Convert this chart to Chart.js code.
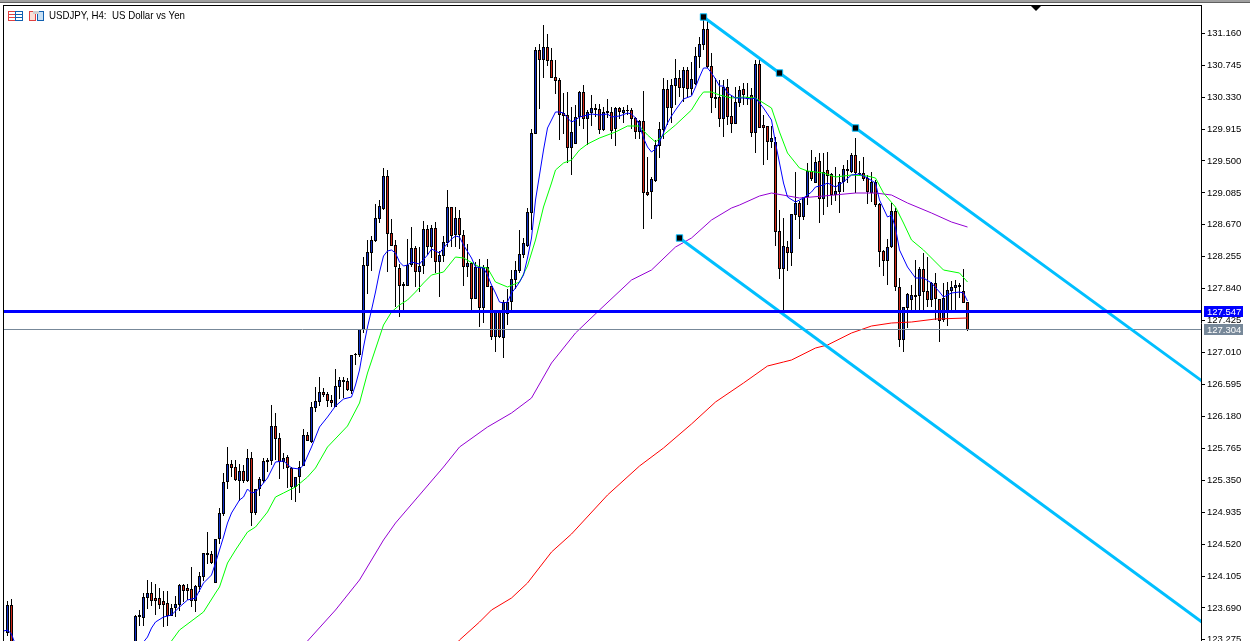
<!DOCTYPE html>
<html><head><meta charset="utf-8">
<style>html,body{margin:0;padding:0;background:#fff;overflow:hidden}canvas{display:block}</style>
<script src="https://cdn.jsdelivr.net/npm/chart.js@4"></script>
</head><body>
<canvas id="c" width="1250" height="641"></canvas>
<script>
const chartTitle = "USDJPY, H4:  US Dollar vs Yen";
const tickLabels = [131.160,130.745,130.330,129.915,129.500,129.085,128.670,128.255,127.840,127.425,127.010,126.595,126.180,125.765,125.350,124.935,124.520,124.105,123.690,123.275];
const N = null;
const gapNulls = [N,N,N,N,N,N,N,N,N,N,N,N,N,N,N,N,N,N,N,N,N,N,N,N,N,N,N,N,N,N];
const opens = [123.143,123.364,123.728,...gapNulls,
123.143,123.572,123.559,123.819,123.884,123.819,123.819,123.78,123.754,123.585,123.689,123.728,123.988,123.949,123.936,123.78,123.962,124.092,124.378,124.391,124.014,124.586,124.911,125.327,125.561,125.522,125.34,125.47,125.34,125.639,124.924,125.236,125.34,125.587,125.6,126.055,125.899,125.587,125.652,125.509,125.262,125.392,125.535,125.938,125.847,126.289,126.367,126.497,126.471,126.393,126.302,126.562,126.627,126.64,126.51,126.978,
126.978,127.303,128.135,128.304,128.46,128.746,128.876,129.305,128.564,128.408,128.109,127.901,127.875,128.148,128.369,128.057,128.135,128.616,128.382,128.629,128.187,128.265,128.434,128.902,128.538,128.759,128.538,128.122,128.174,127.706,128.122,127.589,128.122,127.875,127.212,127.55,127.199,127.511,127.667,127.953,128.07,128.278,128.395,
128.824,129.851,130.943,130.813,130.982,130.813,130.592,130.553,130.124,130.098,129.669,129.721,130.072,130.397,130.046,130.124,130.163,130.176,129.903,130.15,130.137,129.916,130.189,130.124,130.15,130.163,130.059,129.877,130.02,129.097,129.097,129.24,129.695,129.903,130.436,130.189,130.475,130.579,130.449,130.683,130.436,130.501,130.852,131.008,131.216,130.735,130.332,130.332,130.046,130.462,130.085,129.981,130.254,
130.436,130.306,130.358,129.864,130.761,129.968,129.955,129.747,129.747,128.59,128.096,128.382,128.304,128.798,128.954,128.772,129.032,129.37,129.214,129.5,129.006,129.383,129.331,129.058,129.097,129.227,129.37,129.357,129.578,129.344,129.344,129.279,129.084,129.227,128.941,128.33,128.2,128.382,128.85,127.862,127.173,127.589,127.693,127.732,127.745,128.096,127.81,127.693,127.914,127.706,127.433,127.537,127.81,127.849,127.862,127.81,127.667];
const highs = [124.131,123.78,123.806,...gapNulls,
123.598,123.663,123.884,124.053,124.027,124.001,123.949,123.91,123.91,123.741,123.845,124.001,124.001,124.001,124.222,123.988,124.157,124.404,124.677,124.43,124.586,124.989,125.444,125.782,125.613,125.613,125.561,125.548,125.756,125.717,125.236,125.392,125.639,125.639,126.328,126.224,125.964,125.704,125.678,125.522,125.392,125.6,126.016,125.977,126.367,126.562,126.692,126.549,126.497,126.458,126.796,126.692,126.692,126.679,126.978,127.004,
127.316,128.252,128.473,128.525,128.941,128.993,129.409,129.383,128.746,128.473,128.161,127.927,128.486,128.642,128.395,128.382,128.72,128.668,128.668,128.707,128.33,128.525,129.123,128.902,128.902,128.863,128.603,128.421,128.187,128.187,128.226,128.148,128.226,127.875,127.563,127.563,127.693,127.836,128.083,128.2,128.603,128.499,128.889,
129.916,130.982,131.021,131.268,131.151,130.969,130.813,130.579,130.384,130.397,130.202,130.228,130.41,130.488,130.163,130.358,130.241,130.241,130.202,130.306,130.202,130.202,130.202,130.202,130.228,130.189,130.072,130.033,130.41,129.552,129.292,129.773,130.007,130.579,130.553,130.566,130.826,130.683,130.722,130.722,130.787,130.982,131.112,131.372,131.32,130.904,130.579,130.553,130.553,130.566,130.358,130.462,130.475,
130.514,130.514,130.449,130.813,130.813,130.098,129.955,129.955,129.812,128.863,128.759,128.46,128.811,129.357,128.98,129.032,129.474,129.643,129.552,129.604,129.604,129.617,129.344,129.422,129.331,129.448,129.513,129.604,129.799,129.5,129.552,129.318,129.357,129.253,128.954,128.343,128.486,128.954,128.889,127.979,127.602,127.784,127.888,128.213,128.122,128.304,128.252,127.927,128.044,127.706,127.914,127.927,127.94,127.953,127.914,128.096,127.667];
const lows = [123.013,123.325,122.948,...gapNulls,
123.013,123.455,123.455,123.676,123.715,123.598,123.676,123.442,123.455,123.585,123.572,123.65,123.767,123.793,123.702,123.637,123.897,124.04,124.261,124.261,124.014,124.521,124.885,125.236,125.392,125.34,125.08,125.314,125.327,124.755,124.898,125.145,125.314,125.457,125.548,125.613,125.366,125.496,125.249,125.093,125.067,125.184,125.535,125.86,125.834,126.237,126.315,126.432,126.302,126.302,126.302,126.406,126.419,126.51,126.471,126.848,
126.952,127.264,127.771,128.07,128.447,128.694,128.863,128.057,128.395,127.602,127.472,127.537,127.875,128.122,127.862,127.797,128.031,128.278,128.239,128.044,127.732,128.187,128.382,128.382,128.382,128.356,127.875,127.992,127.524,127.706,127.342,127.394,127.862,127.173,127.017,127.199,126.939,127.368,127.524,127.836,128.044,128.239,128.382,
128.603,129.851,130.176,130.579,130.735,130.579,130.371,129.773,129.851,129.474,129.318,129.721,129.955,129.916,129.708,129.955,130.072,129.851,129.89,130.059,129.786,129.695,130.046,129.994,130.098,129.916,129.786,129.786,128.616,129.045,128.746,129.227,129.539,129.786,129.968,129.994,130.228,130.332,130.267,130.332,130.358,130.488,130.709,130.943,130.709,130.124,130.189,129.942,129.812,129.968,129.864,129.981,130.202,
130.228,130.228,129.812,129.604,129.929,129.448,129.513,129.669,128.395,127.966,127.524,128.07,128.135,128.733,128.486,128.733,128.928,129.24,129.214,128.694,128.798,128.902,128.928,128.98,128.824,129.097,129.214,129.344,129.084,129.318,129.24,128.941,128.967,128.902,128.122,128.005,127.888,128.369,127.81,127.082,127.017,127.329,127.55,127.563,127.55,127.537,127.602,127.602,127.433,127.147,127.407,127.355,127.563,127.563,127.719,127.654,127.29];
const closes = [123.208,123.728,123.013,...gapNulls,
123.585,123.598,123.832,123.884,123.78,123.78,123.728,123.728,123.585,123.689,123.741,123.988,123.91,123.91,123.78,123.975,124.105,124.404,124.404,124.274,124.586,124.924,125.327,125.561,125.509,125.353,125.47,125.34,125.639,124.924,125.236,125.366,125.6,125.613,126.055,125.886,125.587,125.639,125.509,125.262,125.392,125.522,125.938,125.86,126.302,126.38,126.497,126.458,126.38,126.354,126.575,126.653,126.653,126.523,126.978,126.991,
127.316,128.148,128.317,128.473,128.759,128.915,129.305,128.551,128.395,128.122,127.875,127.875,128.148,128.369,128.057,128.135,128.616,128.382,128.629,128.187,128.278,128.447,128.902,128.525,128.759,128.538,128.122,128.174,127.706,128.122,127.589,128.122,127.862,127.212,127.55,127.212,127.667,127.667,127.966,128.083,128.291,128.434,128.837,
129.864,130.943,130.813,130.982,130.8,130.579,130.54,130.098,130.085,129.669,129.877,130.072,130.397,130.046,130.137,130.189,130.189,129.903,130.137,130.124,129.89,130.189,130.137,130.163,130.163,130.046,129.877,130.02,129.084,129.058,129.266,129.708,129.916,130.436,130.189,130.488,130.579,130.449,130.683,130.436,130.566,130.865,131.021,131.216,130.722,130.319,130.306,130.046,130.462,130.072,129.981,130.267,130.423,
130.358,130.332,129.864,130.761,129.929,129.929,129.747,129.799,128.577,128.096,128.395,128.304,128.811,128.954,128.772,129.032,129.37,129.266,129.487,129.006,129.357,129.305,129.058,129.11,129.227,129.396,129.396,129.578,129.344,129.331,129.266,129.097,129.227,128.928,128.317,128.2,128.382,128.85,127.862,127.173,127.602,127.771,127.758,127.758,128.096,127.797,127.693,127.914,127.706,127.42,127.719,127.823,127.862,127.888,127.888,127.654,127.304];

const blueIdx = [0,1,2,3,35,36,37,38,40,42,44,46,48,50,52,53,55,56,57,59,60,61,62,63,64,66,68,70,72,74,75,77,79,81,83,85,87,88,89,90,91,92,93,94,95,96,97,98,99,100,101,102,104,106,107,108,109,110,112,113,114,115,117,118,120,121,122,123,124,125,126,127,128,129,130,131,132,133,134,135,136,137,138,139,140,141,142,143,144,145,147,149,151,152,154,156,157,158,159,160,161,162,163,164,165,166,167,168,170,172,173,174,175,176,177,178,179,180,181,183,185,187,188,190,192,193,194,195,196,198,200,202,203,205,206,208,210,212,214,216,218,219,221,222,223,224,226,228,230,232,234,235,237,239,240,241];
const blueVal = [123.39,123.403,123.351,123.208,123.247,123.312,123.429,123.507,123.572,123.598,123.702,123.793,123.819,124.014,124.118,124.274,124.612,124.794,124.924,125.093,125.132,125.236,125.184,125.197,125.249,125.379,125.587,125.6,125.509,125.496,125.548,125.782,126.042,126.172,126.315,126.406,126.432,126.588,126.783,127.082,127.342,127.563,127.797,128.057,128.265,128.33,128.343,128.304,128.187,128.135,128.148,128.187,128.161,128.278,128.356,128.33,128.304,128.369,128.486,128.525,128.512,128.408,128.239,128.122,128.109,128.018,127.888,127.784,127.667,127.654,127.667,127.784,127.849,127.927,128.018,128.239,128.499,128.993,129.318,129.643,129.929,130.033,130.137,130.137,130.124,130.059,130.007,130.033,130.072,130.085,130.111,130.098,130.111,130.072,130.085,130.124,130.111,130.059,129.968,129.799,129.682,129.617,129.656,129.747,129.864,129.994,130.085,130.163,130.306,130.345,130.462,130.592,130.709,130.709,130.644,130.566,130.475,130.475,130.384,130.319,130.319,130.306,130.319,130.189,130.033,129.734,129.474,129.214,129.032,128.967,129.019,129.097,129.162,129.188,129.214,129.162,129.227,129.318,129.331,129.279,129.214,128.993,128.772,128.798,128.629,128.343,128.122,127.979,127.979,127.914,127.797,127.732,127.784,127.797,127.784,127.68];
const greenIdx = [41,42,44,50,53,54,56,58,61,63,66,68,70,73,76,78,81,86,89,91,93,94,95,97,99,101,103,105,107,110,113,115,119,121,123,126,129,131,133,135,137,138,140,142,144,146,149,153,156,159,161,163,165,168,172,174,175,177,179,182,185,188,192,194,196,199,201,205,208,212,216,218,220,223,225,227,230,232,235,239,241];
const greenVal = [123.208,123.26,123.403,123.637,123.884,123.962,124.274,124.443,124.677,124.742,124.937,125.132,125.184,125.262,125.392,125.509,125.782,126.055,126.354,126.744,127.056,127.212,127.368,127.537,127.628,127.693,127.797,127.914,128.018,128.057,128.252,128.239,128.122,128.109,127.927,127.862,127.927,128.135,128.473,128.902,129.214,129.383,129.474,129.513,129.643,129.721,129.799,129.877,129.955,129.955,129.838,129.747,129.838,129.968,130.163,130.332,130.397,130.397,130.358,130.319,130.332,130.319,130.189,129.877,129.604,129.409,129.37,129.344,129.292,129.318,129.305,129.279,129.084,128.902,128.694,128.473,128.343,128.239,128.083,128.044,127.927];
const purpleIdx = [75,76,83,89,95,98,104,110,114,121,127,132,137,143,149,157,162,168,172,177,182,184,189,192,199,205,213,218,222,226,232,237,241];
const purpleVal = [123.208,123.26,123.663,124.053,124.573,124.794,125.158,125.522,125.782,126.042,126.224,126.419,126.874,127.264,127.563,127.953,128.083,128.382,128.499,128.733,128.889,128.928,129.045,129.084,129.019,129.045,129.084,129.084,129.058,128.954,128.824,128.707,128.642];
const redIdx = [113,114,119,122,127,131,137,142,151,159,165,172,178,185,191,195,197,203,206,212,217,222,227,233,241];
const redVal = [123.208,123.273,123.507,123.663,123.819,124.014,124.417,124.651,125.158,125.535,125.769,126.081,126.367,126.614,126.835,126.887,126.913,127.069,127.108,127.264,127.355,127.394,127.407,127.446,127.459];

const levelBlueLabel = "127.547", levelGrayLabel = "127.304";
const levelBlue = 127.5435, levelGray = 127.3095;
const upperTrendIdx = [175,194,213,300], upperTrendVal = [131.372,130.644,129.929,126.626];
const lowerTrendIdx = [169,300], lowerTrendVal = [128.499,123.49];
const anchorIdx = [175,194,213,169], anchorVal = [131.372,130.644,129.929,128.499];

const INK='#000000', UP='#1030c8', DOWN='#d02818', SKY='#00bfff', GREY='#778899';
const LABEL_FONT='"Liberation Sans"';
const kRange=[...opens.keys()].filter(k=>opens[k]!==null);
const pts=(xs,ys)=>xs.map((x,i)=>({x,y:ys[i]}));
const lineDs=(data,color,width,order)=>({type:'line',data,borderColor:color,borderWidth:width,pointRadius:0,tension:0,fill:false,order,borderJoinStyle:'round'});
const xMin=-0.125, xMax=299.375;

const furniture={id:'furniture',
  afterDraw(ch){
    const c=ch.ctx;
    c.save();
    c.fillStyle='#a0a0a0'; c.fillRect(0,0,1250,2);
    c.fillStyle='#606060'; c.fillRect(0,2,1250,1);
    c.fillStyle=INK; c.fillRect(3,5,1199,1); c.fillRect(3,5,1,636);
    c.beginPath(); c.moveTo(1031,6); c.lineTo(1041,6); c.lineTo(1036,11); c.closePath(); c.fill();
    c.lineWidth=1;
    c.strokeStyle='#e04040'; c.strokeRect(8.5,11.5,7,9);
    c.beginPath(); c.moveTo(9,14.5);c.lineTo(15,14.5);c.moveTo(9,17.5);c.lineTo(15,17.5);c.stroke();
    c.strokeStyle='#1060b0'; c.strokeRect(15.5,11.5,7,9);
    c.beginPath(); c.moveTo(16,14.5);c.lineTo(22,14.5);c.moveTo(16,17.5);c.lineTo(22,17.5);c.stroke();
    c.strokeStyle='#e04040'; c.fillStyle='#fbe0d8'; c.fillRect(29.5,11.5,6,9); c.strokeRect(29.5,11.5,6,9);
    c.strokeStyle='#1060b0'; c.fillStyle='#c8e0f4'; c.fillRect(37.5,11.5,6,9); c.strokeRect(37.5,11.5,6,9);
    c.fillStyle='#d0d0d0'; c.fillRect(33,11,6,3);
    c.fillStyle=INK; c.font='10.5px "Liberation Sans"'; c.textBaseline='middle'; c.textAlign='left';
    c.fillText(chartTitle,49,16.5,136);
    c.font='9.5px '+LABEL_FONT;
    c.fillStyle='#0000ff'; c.fillRect(1204,306,39,11);
    c.fillStyle=GREY; c.fillRect(1204,324,39,11);
    c.fillStyle='#ffffff';
    c.fillText(levelBlueLabel,1207,312);
    c.fillText(levelGrayLabel,1207,330);
    c.restore();
  }};

new Chart(document.getElementById('c'),{
  type:'bar',
  data:{datasets:[
    {label:'wicks',data:kRange.map(k=>({x:k,y:[lows[k],highs[k]]})),backgroundColor:INK,barThickness:1,borderWidth:0,inflateAmount:0,grouped:false,order:9},
    {label:'up',data:kRange.filter(k=>closes[k]>=opens[k]).map(k=>({x:k,y:[opens[k],closes[k]]})),backgroundColor:UP,borderColor:INK,borderWidth:1,borderSkipped:false,barThickness:3,inflateAmount:0,grouped:false,order:8},
    {label:'down',data:kRange.filter(k=>closes[k]<opens[k]).map(k=>({x:k,y:[opens[k],closes[k]]})),backgroundColor:DOWN,borderColor:INK,borderWidth:1,borderSkipped:false,barThickness:3,inflateAmount:0,grouped:false,order:8},
    lineDs(pts(redIdx,redVal),'#ff0000',1,7),
    lineDs(pts(purpleIdx,purpleVal),'#9400d3',1,6),
    lineDs(pts(greenIdx,greenVal),'#00ff00',1,5),
    lineDs(pts(blueIdx,blueVal),'#0000ff',1,4),
    lineDs(pts([xMin,xMax],[levelGray,levelGray]),GREY,1,3),
    lineDs(pts(upperTrendIdx,upperTrendVal),SKY,3,2),
    lineDs(pts(lowerTrendIdx,lowerTrendVal),SKY,3,2),
    lineDs(pts([xMin,xMax],[levelBlue,levelBlue]),'#0000ff',3,1),
    {type:'scatter',data:pts(anchorIdx,anchorVal),pointStyle:'rect',pointRadius:4.5,backgroundColor:INK,borderColor:SKY,borderWidth:1,order:0}
  ]},
  options:{
    responsive:false,animation:false,devicePixelRatio:1,
    layout:{autoPadding:false,padding:{left:3,top:5,right:0,bottom:0}},
    plugins:{legend:{display:false},tooltip:{enabled:false},title:{display:false}},
    scales:{
      x:{type:'linear',display:false,min:xMin,max:xMax,offset:false},
      y:{type:'linear',position:'right',min:123.26,max:131.528,
        afterBuildTicks(s){s.ticks=tickLabels.map(v=>({value:v}));},
        afterFit(s){s.width=49;s.paddingTop=0;s.paddingBottom=0;},
        border:{display:true,color:INK,width:1},
        grid:{drawOnChartArea:false,drawTicks:true,tickLength:4,color:INK},
        ticks:{autoSkip:false,padding:2,color:INK,font:{family:LABEL_FONT,size:9.5},maxRotation:0,callback:v=>Number(v).toFixed(3)}
      }
    }
  },
  plugins:[furniture]
});
</script>
</body></html>
